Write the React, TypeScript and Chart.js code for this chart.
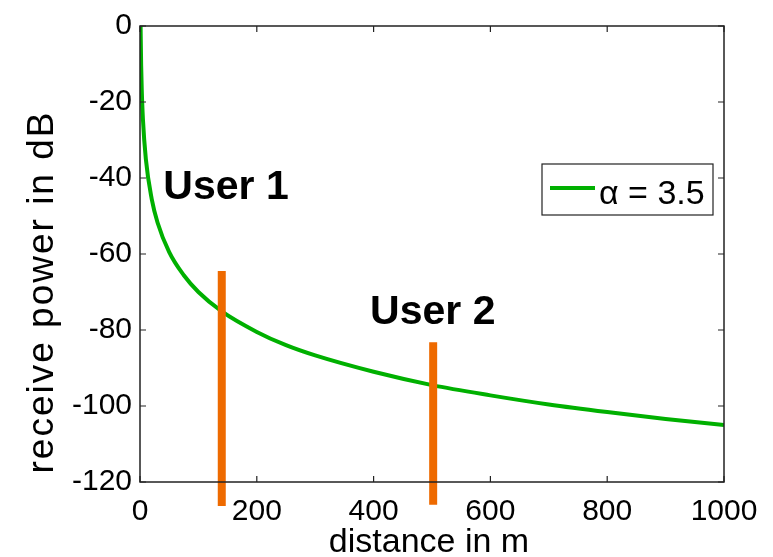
import { useEffect, useRef } from "react";
import { Chart, registerables } from "chart.js";
Chart.register(...registerables);

// Curve
const distance = [1, 2, 3, 5, 10, 20, 30, 50, 75, 100, 140, 200, 250, 300, 400, 500, 600, 700, 800, 900, 1000];
const power = [0, -10.5, -16.7, -24.5, -35, -45.5, -51.7, -59.5, -65.6, -70, -75.1, -80.5, -84, -86.7, -91, -94.5, -97.2, -99.6, -101.6, -103.4, -105];

const xTicks = [0, 200, 400, 600, 800, 1000];
const yTicks = [-120, -100, -80, -60, -40, -20, 0];

// User markers
const userNames = ["User 1", "User 2"];
const userDistance = [140, 502];
const userBarTop = [-64.5, -83.2];
const userBarBottom = [-126.3, -126.0];
const userLabelX = [40, 394];
const userLabelY = [-45.6, -78.3];

const seriesLabel = "α = 3.5";
const xTitle = "distance in m";
const yTitle = "receive power in dB";

const GREEN = "#00b000";
const ORANGE = "#ee6a00";
const AXIS = "#222222";
const FONT = "'Liberation Sans', Arial, Helvetica, sans-serif";

const decor = {
  id: "decor",
  afterDraw(chart: any) {
    const { ctx, chartArea } = chart;
    const xs = chart.scales.x;
    const ys = chart.scales.y;
    const { left, right, top, bottom } = chartArea;
    ctx.save();
    // box
    ctx.strokeStyle = AXIS;
    ctx.lineWidth = 1.5;
    ctx.strokeRect(left, top, right - left, bottom - top);
    // inward ticks on all four sides
    const tl = 6;
    ctx.lineWidth = 1.2;
    ctx.beginPath();
    xTicks.forEach((v) => {
      const px = xs.getPixelForValue(v);
      ctx.moveTo(px, bottom);
      ctx.lineTo(px, bottom - tl);
      ctx.moveTo(px, top);
      ctx.lineTo(px, top + tl);
    });
    yTicks.forEach((v) => {
      const py = ys.getPixelForValue(v);
      ctx.moveTo(left, py);
      ctx.lineTo(left + tl, py);
      ctx.moveTo(right, py);
      ctx.lineTo(right - tl, py);
    });
    ctx.stroke();

    // user labels
    ctx.fillStyle = "#000";
    ctx.font = `bold 41px ${FONT}`;
    ctx.textAlign = "left";
    ctx.textBaseline = "alphabetic";
    userNames.forEach((name, i) => {
      ctx.fillText(name, xs.getPixelForValue(userLabelX[i]), ys.getPixelForValue(userLabelY[i]));
    });

    // legend
    const lx = right - 182;
    const ly = top + 138;
    const lw = 171;
    const lh = 51;
    ctx.fillStyle = "#fff";
    ctx.fillRect(lx, ly, lw, lh);
    ctx.strokeStyle = AXIS;
    ctx.lineWidth = 1.2;
    ctx.strokeRect(lx, ly, lw, lh);
    ctx.strokeStyle = GREEN;
    ctx.lineWidth = 4;
    ctx.beginPath();
    ctx.moveTo(lx + 8, ly + 24);
    ctx.lineTo(lx + 53, ly + 24);
    ctx.stroke();
    ctx.fillStyle = "#000";
    ctx.font = `34px ${FONT}`;
    ctx.fillText(seriesLabel, lx + 57, ly + 40);

    // axis titles
    ctx.font = `34px ${FONT}`;
    ctx.textAlign = "center";
    ctx.fillText(xTitle, (left + right) / 2 - 3, 552);
    ctx.save();
    ctx.translate(53, (top + bottom) / 2 + 38);
    ctx.rotate(-Math.PI / 2);
    ctx.font = `37px ${FONT}`;
    (ctx as any).letterSpacing = "2px";
    ctx.fillText(yTitle, 0, 0);
    ctx.restore();
    ctx.restore();
  },
};

export default function App() {
  const ref = useRef<HTMLCanvasElement>(null);
  useEffect(() => {
    if (!ref.current) return;
    const curve = distance.map((d, i) => ({ x: d, y: power[i] }));
    const bars = userNames.map((name, i) => ({
      label: name,
      data: [
        { x: userDistance[i], y: userBarTop[i] },
        { x: userDistance[i], y: userBarBottom[i] },
      ],
      borderColor: ORANGE,
      backgroundColor: ORANGE,
      borderWidth: 8,
      borderCapStyle: "butt" as const,
      pointRadius: 0,
      clip: false as any,
      order: 0,
    }));
    const chart = new Chart(ref.current, {
      type: "line",
      data: {
        datasets: [
          ...bars,
          {
            label: seriesLabel,
            data: curve,
            borderColor: GREEN,
            backgroundColor: GREEN,
            borderWidth: 4,
            pointRadius: 0,
            cubicInterpolationMode: "monotone",
            order: 1,
          },
        ],
      },
      options: {
        responsive: false,
        animation: false,
        events: [],
        layout: { padding: { top: 22, right: 49, left: 0, bottom: 0 } },
        plugins: { legend: { display: false }, tooltip: { enabled: false } },
        scales: {
          x: {
            type: "linear",
            min: 0,
            max: 1000,
            grid: { display: false, drawTicks: false },
            border: { display: false },
            afterBuildTicks: (s: any) => {
              s.ticks = xTicks.map((v) => ({ value: v }));
            },
            afterFit: (s: any) => {
              s.height = 75;
            },
            ticks: {
              color: "#000",
              font: { family: FONT, size: 30 },
              padding: 12,
              maxRotation: 0,
              autoSkip: false,
              callback: (v: any) => String(v),
            },
          },
          y: {
            type: "linear",
            min: -120,
            max: 0,
            grid: { display: false, drawTicks: false },
            border: { display: false },
            afterBuildTicks: (s: any) => {
              s.ticks = yTicks.map((v) => ({ value: v }));
            },
            afterFit: (s: any) => {
              s.width = 140;
            },
            ticks: {
              color: "#000",
              font: { family: FONT, size: 30 },
              padding: 8,
              autoSkip: false,
              callback: (v: any) => String(v),
            },
          },
        },
      },
      plugins: [decor],
    });
    return () => chart.destroy();
  }, []);
  return (
    <div style={{ position: "absolute", left: 0, top: 0, width: 773, height: 557, background: "#fff" }}>
      <canvas ref={ref} width={773} height={557} style={{ display: "block" }} />
    </div>
  );
}
